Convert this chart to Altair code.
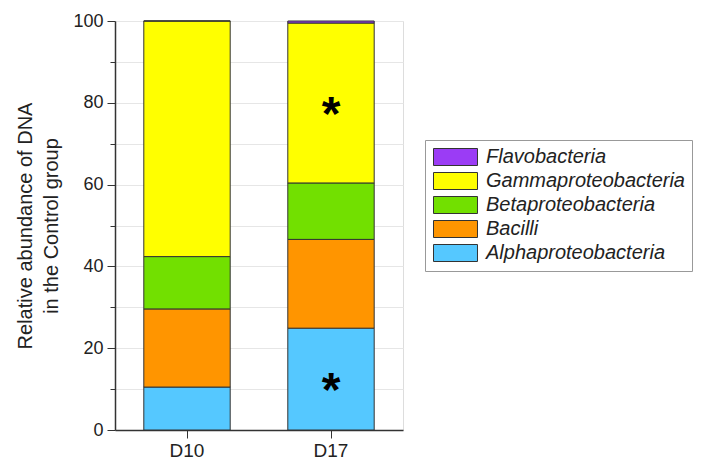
import altair as alt
import pandas as pd

days = ["D10", "D17"]
classes = ["Alphaproteobacteria", "Bacilli", "Betaproteobacteria", "Gammaproteobacteria", "Flavobacteria"]
d10_values = [10.5, 19.1, 12.8, 57.6, 0.0]
d17_values = [24.9, 21.7, 13.8, 39.1, 0.5]
legend_order = ["Flavobacteria", "Gammaproteobacteria", "Betaproteobacteria", "Bacilli", "Alphaproteobacteria"]
colors = ["#9b3cf5", "#ffff00", "#72e000", "#ff9500", "#55c8ff"]
star_day = ["D17", "D17"]
star_y = [79.5, 12.0]
y_ticks = [0, 10, 20, 30, 40, 50, 60, 70, 80, 90, 100]

rows = []
for day, vals in zip(days, [d10_values, d17_values]):
    for i, (c, v) in enumerate(zip(classes, vals)):
        rows.append({"day": day, "cls": c, "value": v, "rank": i})
df = pd.DataFrame(rows)
stars = pd.DataFrame({"day": star_day, "y": star_y, "t": ["*"] * len(star_day)})

FONT = "Liberation Sans"

x = alt.X("day:N", title=None, sort=days,
          scale=alt.Scale(paddingInner=0.4, paddingOuter=0.2),
          axis=alt.Axis(labelAngle=0, labelFontSize=19, labelFont=FONT, labelColor="#222",
                        domainColor="#333", domainWidth=1.5, tickColor="#333", tickSize=8,
                        labelPadding=3))

bars = alt.Chart(df).mark_bar(stroke="#333", strokeWidth=1).encode(
    x=x,
    y=alt.Y("value:Q", stack="zero",
            scale=alt.Scale(domain=[0, 100], nice=False),
            axis=alt.Axis(values=y_ticks,
                          labelExpr="datum.value % 20 === 0 ? datum.label : ''",
                          title=["Relative abundance of DNA", "in the Control group"],
                          titleFont=FONT, titleFontSize=20, titleFontWeight="normal",
                          titleColor="#222", titlePadding=11, titleLineHeight=26,
                          labelFont=FONT, labelFontSize=18, labelColor="#222",
                          domainColor="#333", domainWidth=1.5, tickColor="#333",
                          tickSize={"condition": {"test": "datum.value % 20 === 0", "value": 8}, "value": 5},
                          gridColor="#e6e6e6", grid=True, labelPadding=4)),
    color=alt.Color("cls:N", sort=legend_order,
                    scale=alt.Scale(domain=legend_order, range=colors),
                    legend=alt.Legend(title=None, orient="none", legendX=310, legendY=119,
                                      symbolType="M-1,-1L4.176,-1L4.176,1L-1,1Z",
                                      symbolSize=289, symbolStrokeColor="#333",
                                      symbolStrokeWidth=1, symbolOpacity=1,
                                      labelOffset=34,
                                      labelFont=FONT, labelFontSize=20, labelFontStyle="italic",
                                      labelColor="#222", labelLimit=300, rowPadding=2,
                                      strokeColor="#999", padding=7, fillColor="white")),
    order=alt.Order("rank:Q", sort="ascending"),
)

star = alt.Chart(stars).mark_text(text="*", fontSize=48, font=FONT, fontWeight="bold",
                                  baseline="middle", dy=11, color="black").encode(
    x=alt.X("day:N", sort=days),
    y=alt.Y("y:Q"),
)

chart = alt.layer(bars, star).properties(
    width=288, height=409,
    padding={"left": 107, "top": 13, "right": 290, "bottom": 32},
    autosize=alt.AutoSizeParams(type="none"),
).configure_view(stroke=None).configure(background="white")

chart.save("out.html", embed_options={"renderer": "svg", "actions": False})
